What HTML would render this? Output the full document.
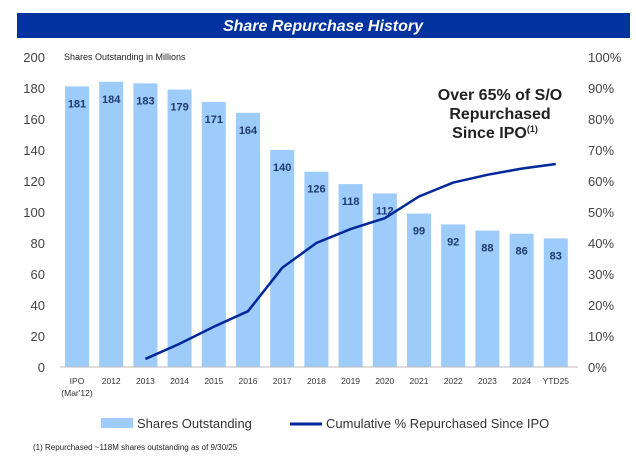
<!DOCTYPE html>
<html><head><meta charset="utf-8"><style>
body{margin:0;background:#fff;font-family:"Liberation Sans",sans-serif;}
svg text{font-family:"Liberation Sans",sans-serif;}
</style></head><body>
<svg id="chart" width="636" height="468" viewBox="0 0 636 468">
<rect x="17" y="13" width="613" height="25" fill="#0033a0"/>
<text x="323" y="31" text-anchor="middle" fill="#fff" font-size="16" font-weight="bold" font-style="italic">Share Repurchase History</text>
<text x="64" y="60" font-size="9" fill="#222">Shares Outstanding in Millions</text>
<g id="ticks"></g><g id="bars"></g><g id="xlabels"></g><g id="line"></g>
<line x1="60" y1="367" x2="578" y2="367" stroke="#bbb"/>
<g font-size="16" font-weight="bold" fill="#222" text-anchor="middle">
<text x="500" y="100">Over 65% of S/O</text>
<text x="500" y="119">Repurchased</text>
<text x="495" y="138">Since IPO<tspan font-size="9" dy="-6">(1)</tspan></text>
</g>
<rect x="101" y="418" width="32" height="10" fill="#9dcbfa"/>
<text x="137" y="428" font-size="13" fill="#333">Shares Outstanding</text>
<line x1="290" y1="424" x2="322" y2="424" stroke="#00289a" stroke-width="3"/>
<text x="326" y="428" font-size="13" fill="#333">Cumulative % Repurchased Since IPO</text>
<text x="33" y="450" font-size="8" fill="#222">(1)  Repurchased ~118M shares outstanding as of 9/30/25</text>
</svg>
<script>
const categories=["IPO","2012","2013","2014","2015","2016","2017","2018","2019","2020","2021","2022","2023","2024","YTD25"];
const shares=[181,184,183,179,171,164,140,126,118,112,99,92,88,86,83];
const pctRepurchased=[null,null,2.6,7.5,13,18,32,40,44.5,48,55,59.5,62,64,65.5];
const leftTicks=[0,20,40,60,80,100,120,140,160,180,200];
const rightTicks=[0,10,20,30,40,50,60,70,80,90,100];
const NS="http://www.w3.org/2000/svg";
function xS(i){return 77+i*34.2;}
function yL(v){return 367-v*(310/200);}
function yR(v){return 367-v*3.1;}
function mk(tag,attrs,parent,txt){const e=document.createElementNS(NS,tag);for(const k in attrs)e.setAttribute(k,attrs[k]);if(txt!=null)e.textContent=txt;parent.appendChild(e);return e;}
const tg=document.getElementById('ticks');
leftTicks.forEach(v=>{const t=mk('text',{x:45,y:yL(v)+5,'text-anchor':'end','font-size':13,fill:'#444'},tg,v);

});
rightTicks.forEach(v=>{const t=mk('text',{x:588,y:yR(v)+5,'font-size':13,fill:'#444'},tg,v+'%');

});
const bg=document.getElementById('bars'),xg=document.getElementById('xlabels');
shares.forEach((v,i)=>{const x=xS(i);
const r=mk('rect',{x:x-12,y:yL(v),width:24,height:367-yL(v),fill:'#9dcbfa'},bg);


const t=mk('text',{x:x,y:yL(v)+21,'text-anchor':'middle','font-size':11,'font-weight':'bold',fill:'#1f3a6e'},bg,v);


const l=mk('text',{x:x,y:384,'text-anchor':'middle','font-size':8.5,fill:'#333'},xg,categories[i]);

});
const sub=mk('text',{x:xS(0),y:396,'text-anchor':'middle','font-size':8.5,fill:'#333'},xg,"(Mar'12)");


let pts=[];pctRepurchased.forEach((v,i)=>{if(v!=null)pts.push(xS(i)+','+yR(v));});
const pl=mk('polyline',{points:pts.join(' '),fill:'none',stroke:'#00289a','stroke-width':2.5},document.getElementById('line'));


</script>
</body></html>
